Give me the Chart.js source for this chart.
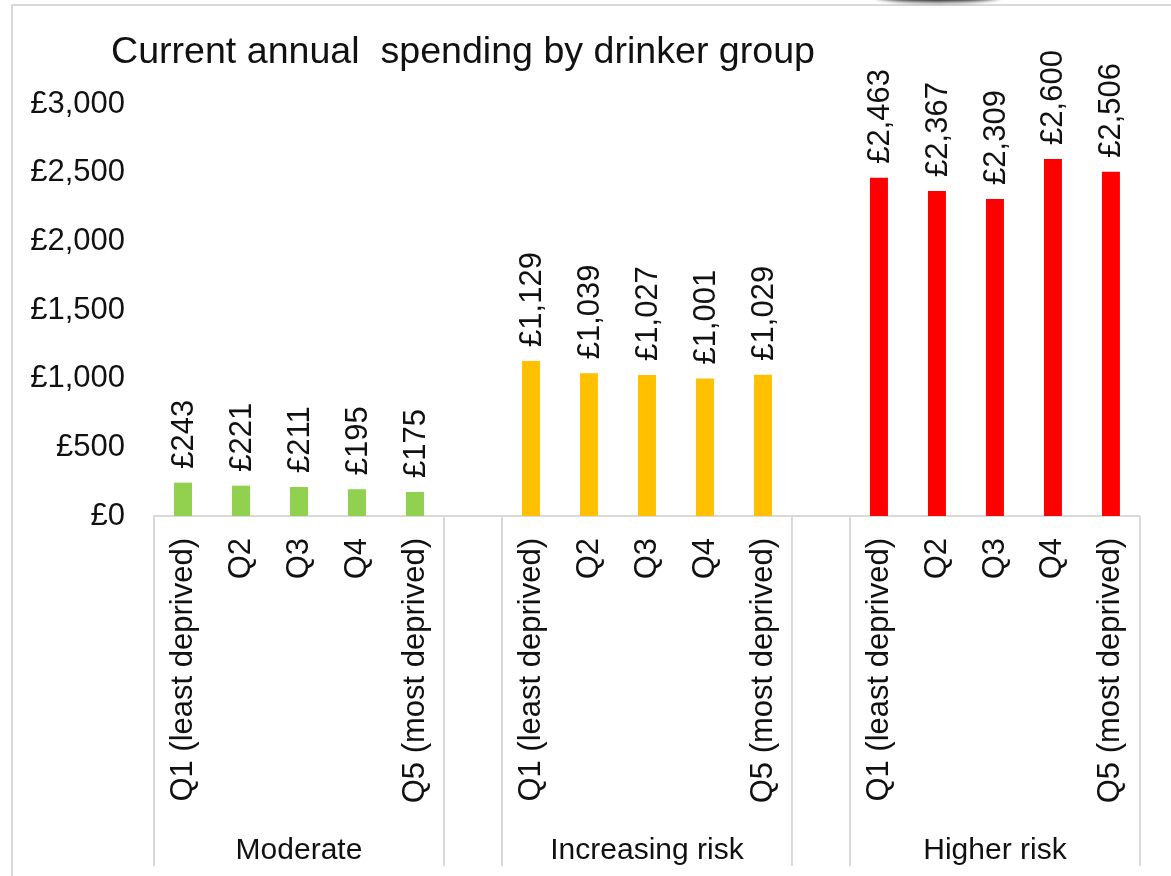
<!DOCTYPE html>
<html>
<head>
<meta charset="utf-8">
<title>Current annual spending by drinker group</title>
<script src="https://cdn.jsdelivr.net/npm/chart.js@4"></script>
<style>
  html, body { margin: 0; padding: 0; background: #fff; }
  #wrap { width: 1171px; height: 876px; }
</style>
</head>
<body>
<div id="wrap"><canvas id="spendChart"></canvas></div>
<script>
// Spending data (£ per year) by deprivation quintile within each drinker group
const quintiles = ["Q1 (least deprived)", "Q2", "Q3", "Q4", "Q5 (most deprived)"];
const groups = ["Moderate", "Increasing risk", "Higher risk"];
const moderate = [243, 221, 211, 195, 175];
const increasingRisk = [1129, 1039, 1027, 1001, 1029];
const higherRisk = [2463, 2367, 2309, 2600, 2506];
const groupColours = ["#92d050", "#ffc000", "#ff0000"];
const yTicks = [0, 500, 1000, 1500, 2000, 2500, 3000];

const FONT = "'Liberation Sans', Arial, sans-serif";
const TEXT = "#111";
const LINE = "#d9d9d9";

// Flatten groups into one category axis, with an empty slot between groups
const labels = [];
const values = [];
const colours = [];
const groupSpans = []; // [first index, last index] per group
[moderate, increasingRisk, higherRisk].forEach((series, g) => {
  if (g > 0) {
    labels.push("");
    values.push(null);
    colours.push("rgba(0,0,0,0)");
  }
  const start = labels.length;
  series.forEach((v, i) => {
    labels.push(quintiles[i]);
    values.push(v);
    colours.push(groupColours[g]);
  });
  groupSpans.push([start, labels.length - 1]);
});

const money = v => "£" + v.toLocaleString("en-GB");

// Frame lines, title and the dark tab at the top edge
const backdrop = {
  id: "backdrop",
  beforeDraw(chart) {
    const ctx = chart.ctx;
    ctx.save();
    ctx.strokeStyle = LINE;
    ctx.lineWidth = 2;
    ctx.beginPath();
    ctx.moveTo(12, 876);
    ctx.lineTo(12, 5);
    ctx.lineTo(1171, 5);
    ctx.stroke();

    ctx.filter = "blur(2px)";
    ctx.fillStyle = "#1a1a1a";
    ctx.beginPath();
    ctx.ellipse(938, -4, 62, 6, 0, 0, Math.PI * 2);
    ctx.fill();
    ctx.filter = "none";

    ctx.fillStyle = TEXT;
    ctx.font = "37.6px " + FONT;
    ctx.textAlign = "left";
    ctx.textBaseline = "alphabetic";
    ctx.fillText("Current annual  spending by drinker group", 111, 63);
    ctx.restore();
  }
};

// Rotated value labels above each bar
const barLabels = {
  id: "barLabels",
  afterDatasetsDraw(chart) {
    const ctx = chart.ctx;
    const meta = chart.getDatasetMeta(0);
    ctx.save();
    ctx.fillStyle = TEXT;
    ctx.font = "31px " + FONT;
    ctx.textAlign = "left";
    ctx.textBaseline = "middle";
    meta.data.forEach((bar, i) => {
      const v = values[i];
      if (v === null) return;
      ctx.save();
      ctx.translate(bar.x + 1, bar.y - 14);
      ctx.rotate(-Math.PI / 2);
      ctx.fillText(money(v), 0, 0);
      ctx.restore();
    });
    ctx.restore();
  }
};

// Group dividers and group names below the quintile labels
const groupAxis = {
  id: "groupAxis",
  afterDraw(chart) {
    const ctx = chart.ctx;
    const x = chart.scales.x;
    const half = (x.getPixelForValue(1) - x.getPixelForValue(0)) / 2;
    const top = chart.chartArea.bottom;
    const edges = [];
    groupSpans.forEach(([a, b]) => {
      edges.push(x.getPixelForValue(a) - half, x.getPixelForValue(b) + half);
    });
    ctx.save();
    ctx.strokeStyle = LINE;
    ctx.lineWidth = 2;
    edges.forEach(px => {
      ctx.beginPath();
      ctx.moveTo(px, top);
      ctx.lineTo(px, 866);
      ctx.stroke();
    });
    ctx.fillStyle = TEXT;
    ctx.font = "30px " + FONT;
    ctx.textAlign = "center";
    ctx.textBaseline = "alphabetic";
    groupSpans.forEach(([a, b], g) => {
      const cx = (x.getPixelForValue(a) + x.getPixelForValue(b)) / 2;
      ctx.fillText(groups[g], cx, 859);
    });
    ctx.restore();
  }
};

Chart.defaults.font.family = FONT;
Chart.defaults.color = TEXT;

new Chart(document.getElementById("spendChart"), {
  type: "bar",
  data: {
    labels: labels,
    datasets: [{
      data: values,
      backgroundColor: colours,
      borderWidth: 0,
      categoryPercentage: 1,
      barPercentage: 0.31
    }]
  },
  options: {
    responsive: true,
    maintainAspectRatio: false,
    animation: false,
    layout: { padding: { left: 12, right: 29, top: 104, bottom: 0 } },
    plugins: {
      legend: { display: false },
      tooltip: { enabled: false }
    },
    scales: {
      x: {
        grid: { display: false, drawTicks: false },
        border: { display: true, color: LINE, width: 2 },
        ticks: {
          autoSkip: false,
          minRotation: 90,
          maxRotation: 90,
          padding: 22,
          font: { size: 31 }
        },
        afterFit(scale) { scale.height = 360; }
      },
      y: {
        min: 0,
        max: 3000,
        grid: { display: false, drawTicks: false },
        border: { display: false },
        afterBuildTicks(scale) { scale.ticks = yTicks.map(v => ({ value: v })); },
        ticks: {
          padding: 29,
          font: { size: 31 },
          callback: v => money(v)
        },
        afterFit(scale) { scale.width = 142; }
      }
    }
  },
  plugins: [backdrop, barLabels, groupAxis]
});
</script>
</body>
</html>
